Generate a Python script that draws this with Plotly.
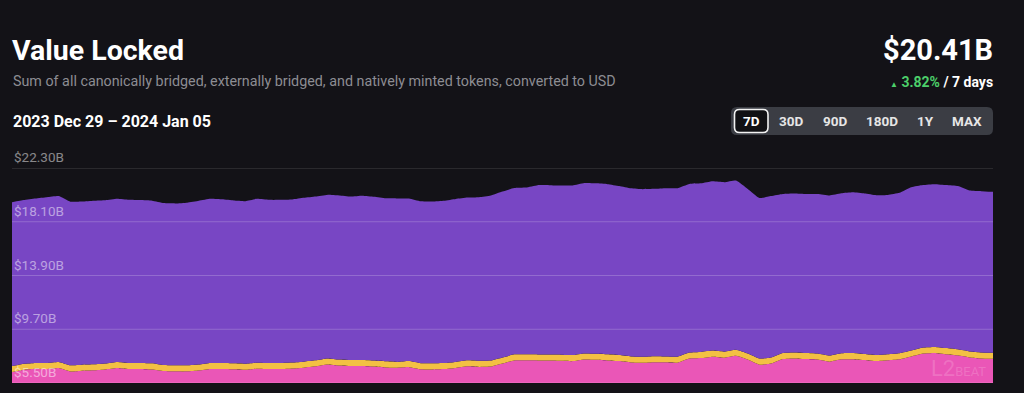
import pandas as pd
import plotly.graph_objects as go

# ---------------- data (USD billions, every 2 hours) ----------------
start = "2023-12-29 00:00"
n_points = 85
timestamps = pd.date_range(start=start, periods=n_points, freq="2h")

natively_minted = [6.35, 6.53, 6.61, 6.59, 6.67, 6.40, 6.46, 6.49, 6.56, 6.67,
                   6.59, 6.60, 6.56, 6.43, 6.41, 6.41, 6.48, 6.59, 6.59, 6.57,
                   6.53, 6.62, 6.59, 6.59, 6.64, 6.70, 6.80, 6.94, 6.86, 6.82,
                   6.82, 6.78, 6.72, 6.69, 6.74, 6.58, 6.56, 6.59, 6.68, 6.80,
                   6.76, 6.78, 7.02, 7.26, 7.27, 7.26, 7.26, 7.24, 7.21, 7.34,
                   7.31, 7.26, 7.21, 7.11, 7.08, 7.13, 7.12, 7.09, 7.41, 7.45,
                   7.56, 7.48, 7.62, 7.33, 6.93, 7.02, 7.37, 7.42, 7.37, 7.33,
                   7.17, 7.35, 7.36, 7.29, 7.21, 7.27, 7.35, 7.57, 7.80, 7.85,
                   7.75, 7.66, 7.50, 7.42, 7.39]

externally_bridged = [0.47, 0.47, 0.46, 0.47, 0.47, 0.48, 0.47, 0.47, 0.46, 0.47,
                      0.47, 0.47, 0.48, 0.47, 0.47, 0.47, 0.46, 0.47, 0.47, 0.47,
                      0.48, 0.47, 0.47, 0.47, 0.46, 0.47, 0.47, 0.48, 0.47, 0.47,
                      0.47, 0.47, 0.47, 0.46, 0.47, 0.47, 0.48, 0.47, 0.47, 0.47,
                      0.47, 0.47, 0.47, 0.48, 0.47, 0.47, 0.46, 0.47, 0.47, 0.47,
                      0.47, 0.48, 0.47, 0.47, 0.47, 0.47, 0.46, 0.47, 0.47, 0.48,
                      0.47, 0.47, 0.47, 0.47, 0.48, 0.47, 0.47, 0.46, 0.47, 0.47,
                      0.47, 0.47, 0.48, 0.47, 0.47, 0.47, 0.47, 0.46, 0.47, 0.47,
                      0.48, 0.47, 0.47, 0.47, 0.47]

canonically_bridged = [12.81, 12.79, 12.85, 12.96, 12.97, 12.79, 12.75, 12.78, 12.76, 12.75,
                       12.75, 12.72, 12.70, 12.66, 12.65, 12.71, 12.80, 12.83, 12.79, 12.72,
                       12.70, 12.80, 12.75, 12.75, 12.74, 12.80, 12.80, 12.78, 12.82, 12.78,
                       12.84, 12.80, 12.74, 12.77, 12.71, 12.65, 12.64, 12.68, 12.73, 12.72,
                       12.79, 12.90, 12.97, 12.99, 13.03, 13.23, 13.24, 13.22, 13.25, 13.31,
                       13.32, 13.30, 13.21, 13.13, 13.09, 13.07, 13.14, 13.16, 13.17, 13.17,
                       13.23, 13.24, 13.23, 12.86, 12.54, 12.62, 12.43, 12.43, 12.43, 12.47,
                       12.51, 12.50, 12.56, 12.55, 12.50, 12.46, 12.55, 12.77, 12.70, 12.72,
                       12.74, 12.76, 12.57, 12.60, 12.58]

tick_values = [5.50, 9.70, 13.90, 18.10, 22.30]
tick_labels = ["$5.50B", "$9.70B", "$13.90B", "$18.10B", "$22.30B"]

title_text = "Value Locked"
subtitle_text = "Sum of all canonically bridged, externally bridged, and natively minted tokens, converted to USD"
total_text = "$20.41B"
change_text = "3.82%"
period_text = "2023 Dec 29 \u2013 2024 Jan 05"
range_buttons = ["7D", "30D", "90D", "180D", "1Y", "MAX"]
selected_button = "7D"

# ---------------- style ----------------
BG = "#131217"
PINK = "#ea56b7"
YELLOW = "#f3c043"
PURPLE = "#7846c4"
FONT = "Roboto"

W, H = 1024, 393
ML, MR, MT, MB = 12, 31, 168, 10
PW, PH = W - ML - MR, H - MT - MB


def px(x):
    return (x - ML) / PW


def py(y):
    return (H - MB - y) / PH


def rounded_rect(x0, y0, x1, y1, r):
    X = lambda v: f"{px(v):.5f}"
    Y = lambda v: f"{py(v):.5f}"
    return (f"M {X(x0 + r)},{Y(y0)} L {X(x1 - r)},{Y(y0)} Q {X(x1)},{Y(y0)} {X(x1)},{Y(y0 + r)} "
            f"L {X(x1)},{Y(y1 - r)} Q {X(x1)},{Y(y1)} {X(x1 - r)},{Y(y1)} "
            f"L {X(x0 + r)},{Y(y1)} Q {X(x0)},{Y(y1)} {X(x0)},{Y(y1 - r)} "
            f"L {X(x0)},{Y(y0 + r)} Q {X(x0)},{Y(y0)} {X(x0 + r)},{Y(y0)} Z")


fig = go.Figure()
for name, vals, col in [("Natively minted", natively_minted, PINK),
                        ("Externally bridged", externally_bridged, YELLOW),
                        ("Canonically bridged", canonically_bridged, PURPLE)]:
    fig.add_trace(go.Scatter(
        x=timestamps, y=vals, name=name, mode="lines", stackgroup="tvl",
        line=dict(width=0, color=col, shape="spline", smoothing=0.4),
        fillcolor=col, hoverinfo="skip", showlegend=False))

shapes = []
for v in tick_values:
    shapes.append(dict(type="line", xref="paper", yref="y", x0=0, x1=1, y0=v, y1=v,
                       line=dict(color="rgba(255,255,255,0.2)", width=1), layer="above"))

shapes.append(dict(type="path", xref="paper", yref="paper",
                   path=rounded_rect(731, 107, 993, 135, 6),
                   fillcolor="#3b3d44", line=dict(width=0), layer="above"))
shapes.append(dict(type="path", xref="paper", yref="paper",
                   path=rounded_rect(734.5, 109.5, 768, 132.5, 5),
                   fillcolor="#111114", line=dict(color="#f2f2f2", width=1.6), layer="above"))

annotations = [
    dict(text=f"<b>{title_text}</b>", x=px(10), y=py(50), xanchor="left", yanchor="middle",
         font=dict(family=FONT, size=28.5, color="#ffffff")),
    dict(text=subtitle_text, x=px(11), y=py(81), xanchor="left", yanchor="middle",
         font=dict(family=FONT, size=14.3, color="#8d8d93")),
    dict(text=f"<b>{period_text}</b>", x=px(11), y=py(121), xanchor="left", yanchor="middle",
         font=dict(family=FONT, size=16, color="#ffffff")),
    dict(text=f"<b>{total_text}</b>", x=px(995), y=py(50), xanchor="right", yanchor="middle",
         font=dict(family=FONT, size=29, color="#ffffff")),
    dict(text=(f"<span style='font-size:8px;color:#4ccf6a'>\u25b2</span> "
               f"<b><span style='color:#4ccf6a'>{change_text}</span> / 7 days</b>"),
         x=px(995), y=py(82), xanchor="right", yanchor="middle",
         font=dict(family=FONT, size=14, color="#ffffff")),
    dict(text="L2<span style='font-size:13px'>BEAT</span>", x=px(958), y=py(368),
         xanchor="center", yanchor="middle",
         font=dict(family=FONT, size=22, color="rgba(255,210,235,0.22)")),
]
for a in annotations:
    a.update(xref="paper", yref="paper")

# y tick labels above each gridline (inside the plot)
for v, lab in zip(tick_values, tick_labels):
    annotations.append(dict(text=lab, xref="paper", yref="y", x=0, y=v, xanchor="left",
                            yanchor="bottom", yshift=1,
                            font=dict(family=FONT, size=13.5, color="rgba(255,255,255,0.5)")))

button_centers = [751, 791, 835, 881.5, 925, 967]
for lab, cx in zip(range_buttons, button_centers):
    annotations.append(dict(text=f"<b>{lab}</b>", xref="paper", yref="paper",
                            x=px(cx), y=py(121.5), xanchor="center", yanchor="middle",
                            font=dict(family=FONT, size=13.5,
                                      color="#ffffff" if lab == selected_button else "#e6e6e6")))
for a in annotations:
    a.update(showarrow=False)

fig.update_layout(
    width=W, height=H,
    margin=dict(l=ML, r=MR, t=MT, b=MB, pad=0),
    paper_bgcolor=BG, plot_bgcolor=BG,
    showlegend=False,
    shapes=shapes, annotations=annotations,
    xaxis=dict(visible=False, range=[timestamps[0], timestamps[-1]], fixedrange=True),
    yaxis=dict(range=[tick_values[0], tick_values[-1]], showticklabels=False,
               showgrid=False, zeroline=False, showline=False, ticks="", fixedrange=True),
    font=dict(family=FONT),
)

fig.write_html("out.html", config={"displayModeBar": False},
               post_script=("document.body.style.margin='0';"
                            "document.body.style.background='#131217';"
                            "document.body.style.overflow='hidden';"))
